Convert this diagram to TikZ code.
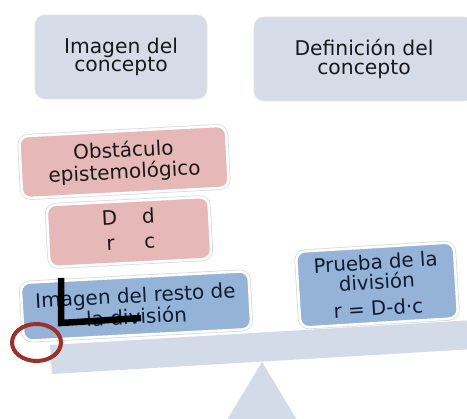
\documentclass[tikz,border=0pt]{standalone}
\usepackage{fontspec}
\setmainfont{DejaVu Sans}
\definecolor{topfill}{HTML}{D5DCE8}
\definecolor{beamfill}{HTML}{D3DAE8}
\definecolor{pinkfill}{HTML}{E6B8B7}
\definecolor{bluefill}{HTML}{95B3D7}
\definecolor{navytext}{HTML}{0F1B33}
\definecolor{ringred}{HTML}{9A312C}
\begin{document}
\begin{tikzpicture}[x=1pt,y=-1pt,
  topbox/.style={rounded corners=10pt, fill=topfill, draw=gray!20, line width=0.6pt,
    align=center, inner sep=0pt, text=black!90, font=\fontsize{20.3}{18.5}\selectfont},
  tiltbox/.style={rounded corners=9pt, draw=white, line width=2.5pt,
    preaction={draw=gray!30, line width=4pt}, align=center, inner sep=0pt},
  pinkbox/.style={tiltbox, fill=pinkfill, text=black!90},
  bluebox/.style={tiltbox, fill=bluefill, text=navytext}
]
\useasboundingbox (0,0) rectangle (467,419);
\clip (0,0) rectangle (467,419);
\fill[white] (0,0) rectangle (467,419);

% fulcrum and beam
\fill[beamfill] (262,362) -- (300,425) -- (224,425) -- cycle;
\fill[beamfill] (50,345) -- (475,320) -- (475,349) -- (52,374) -- cycle;

% top boxes
\node[topbox, minimum width=172pt, minimum height=84pt] (img) at (121,57)
  {Imagen del\\concepto};
\node[topbox, minimum width=220pt, minimum height=84pt] (def) at (364,59)
  {Definición del\\concepto};

% left stack
\node[pinkbox, rotate=3, minimum width=207pt, minimum height=62pt,
  font=\fontsize{20}{21.5}\selectfont] (obs) at (124,162)
  {Obstáculo\\epistemológico};
\node[pinkbox, rotate=3, minimum width=162pt, minimum height=62pt,
  font=\fontsize{20}{17}\selectfont] (ddrc) at (129,232)
  {\begin{tabular}{c@{\hspace{25pt}}c}D & d\\[8pt] r & c\end{tabular}};
\node[bluebox, rotate=3, minimum width=228pt, minimum height=58pt,
  font=\fontsize{20}{18}\selectfont] (resto) at (136,306)
  {Imagen del resto de\\la división};

% right box
\node[bluebox, rotate=3.5, minimum width=158pt, minimum height=76pt,
  font=\fontsize{19.8}{19.5}\selectfont] (prueba) at (377,285)
  {Prueba de la\\división\\[7pt]r = D-d·c};

% annotations
\draw[black, line width=6.5pt, line join=miter] (61,278) -- (61,323) -- (141,318);
\draw[ringred, line width=4pt] (36.5,342.5) ellipse [x radius=24.5, y radius=18.5];
\end{tikzpicture}
\end{document}
